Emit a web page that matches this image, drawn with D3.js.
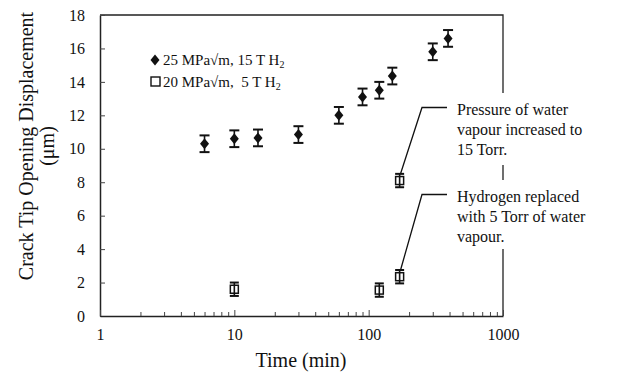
<!DOCTYPE html>
<html>
<head>
<meta charset="utf-8">
<script src="https://cdn.jsdelivr.net/npm/d3@7"></script>
<style>
  body { margin: 0; background: #fff; }
  text { font-family: "Liberation Serif", "Times New Roman", serif; fill: #111; }
</style>
</head>
<body>
<div id="chart"></div>
<script>
// series 1: 25 MPa√m, 15 T H2 (filled diamonds)
const timesA = [6, 10, 15, 30, 60, 90, 120, 150, 300, 390];
const ctodA = [10.3, 10.6, 10.65, 10.85, 12.0, 13.1, 13.5, 14.35, 15.8, 16.6];
const errA = [0.5, 0.5, 0.5, 0.5, 0.5, 0.5, 0.5, 0.5, 0.5, 0.5];

// series 2: 20 MPa√m, 5 T H2 (open squares)
const timesB = [10, 120, 170, 170];
const ctodB = [1.6, 1.55, 2.35, 8.1];
const errB = [0.4, 0.4, 0.4, 0.4];

const xTickLabels = [1, 10, 100, 1000];
const yTickValues = [0, 2, 4, 6, 8, 10, 12, 14, 16, 18];

const legendLabels = ["25 MPa\u221Am, 15 T H", "20 MPa\u221Am,  5 T H"];
const notes = [
    { t: 170, v: 8.1, lines: ["Pressure of water", "vapour increased to", "15 Torr."] },
    { t: 170, v: 2.35, lines: ["Hydrogen replaced", "with 5 Torr of water", "vapour."] }
];

const width = 620, height = 384;
const svg = d3.select("#chart").append("svg")
    .attr("width", width)
    .attr("height", height);

const x = d3.scaleLog().domain([1, 1000]).range([100, 503]);
const y = d3.scaleLinear().domain([0, 18]).range([316, 15]);

// frame (top + right)
svg.append("path")
    .attr("d", `M${x(1)},${y(18)}H${x(1000)}V${y(0)}`)
    .attr("fill", "none")
    .attr("stroke", "#222")
    .attr("stroke-width", 1.3);

// y axis
const yAxis = svg.append("g")
    .attr("transform", `translate(${x(1)},0)`)
    .call(d3.axisLeft(y).tickValues(yTickValues).tickSizeInner(-5).tickSizeOuter(0).tickPadding(15));
yAxis.select(".domain").attr("stroke", "#222").attr("stroke-width", 1.5);
yAxis.selectAll(".tick line").attr("stroke", "#444");
yAxis.selectAll(".tick text").style("font-size", "16px").attr("font-family", null);

// x axis, minor ticks at every integer multiple
const xTicks = [];
[1, 10, 100].forEach(d => { for (let k = 1; k < 10; k++) xTicks.push(d * k); });
xTicks.push(1000);
const xAxis = svg.append("g")
    .attr("transform", `translate(0,${y(0)})`)
    .call(d3.axisBottom(x).tickValues(xTicks).tickSizeInner(-4).tickSizeOuter(0).tickPadding(13)
        .tickFormat(d => xTickLabels.includes(d) ? d : ""));
xAxis.select(".domain").attr("stroke", "#222").attr("stroke-width", 1.5);
xAxis.selectAll(".tick line").attr("stroke", "#444")
    .attr("y2", d => xTickLabels.includes(d) ? -6 : -4);
xAxis.selectAll(".tick text").style("font-size", "16px").attr("font-family", null);

// axis titles
svg.append("text")
    .attr("x", 301).attr("y", 367)
    .attr("text-anchor", "middle")
    .style("font-size", "20px")
    .text("Time (min)");

const yTitle = svg.append("text")
    .attr("transform", "translate(33,146) rotate(-90)")
    .attr("text-anchor", "middle")
    .style("font-size", "20px");
yTitle.append("tspan").attr("x", 0).attr("y", 0).text("Crack Tip Opening Displacement");
yTitle.append("tspan").attr("x", 0).attr("y", 21).text("(\u03BCm)");

// error bars
function errorBars(times, vals, errs, cap) {
    const g = svg.append("g").attr("stroke", "#111").attr("stroke-width", 1.6);
    times.forEach((t, i) => {
        const cx = x(t), lo = y(vals[i] - errs[i]), hi = y(vals[i] + errs[i]);
        g.append("line").attr("x1", cx).attr("x2", cx).attr("y1", lo).attr("y2", hi);
        g.append("line").attr("x1", cx - cap).attr("x2", cx + cap).attr("y1", lo).attr("y2", lo).attr("stroke-width", 2);
        g.append("line").attr("x1", cx - cap).attr("x2", cx + cap).attr("y1", hi).attr("y2", hi).attr("stroke-width", 2);
    });
}
errorBars(timesA, ctodA, errA, 5);
errorBars(timesB, ctodB, errB, 4.5);

const diamond = "M0,-5.5L4.5,0L0,5.5L-4.5,0Z";

svg.append("g").selectAll("path")
    .data(timesA)
    .join("path")
    .attr("d", diamond)
    .attr("transform", (d, i) => `translate(${x(d)},${y(ctodA[i])})`)
    .attr("fill", "#111");

svg.append("g").selectAll("rect")
    .data(timesB)
    .join("rect")
    .attr("x", d => x(d) - 4)
    .attr("y", (d, i) => y(ctodB[i]) - 4)
    .attr("width", 8).attr("height", 8)
    .attr("fill", "none")
    .attr("stroke", "#111")
    .attr("stroke-width", 1.5);

// legend
const legend = svg.append("g");
legendLabels.forEach((lab, i) => {
    const ly = 60 + i * 21.5;
    if (i === 0) {
        legend.append("path").attr("d", diamond).attr("transform", `translate(155,${ly})`).attr("fill", "#111");
    } else {
        legend.append("rect").attr("x", 151).attr("y", ly - 4.5).attr("width", 9).attr("height", 9)
            .attr("fill", "none").attr("stroke", "#111").attr("stroke-width", 1.4);
    }
    const t = legend.append("text").attr("x", 163).attr("y", ly + 5).style("font-size", "15px").style("white-space", "pre");
    t.append("tspan").text(lab);
    t.append("tspan").attr("dy", 3).style("font-size", "10px").text("2");
});

// annotations
notes.forEach(n => {
    const top = n === notes[0] ? 110 : 197;
    svg.append("rect")
        .attr("x", 452).attr("y", top - 17)
        .attr("width", 165).attr("height", n === notes[0] ? 72 : 69)
        .attr("fill", "#fff");
    svg.append("path")
        .attr("d", `M447,${top - 2.5}H422L${x(n.t) + 1},${y(n.v) - 7}`)
        .attr("fill", "none")
        .attr("stroke", "#111")
        .attr("stroke-width", 1.3);
    const t = svg.append("text").attr("x", 457).style("font-size", "16px");
    n.lines.forEach((l, i) => {
        t.append("tspan").attr("x", 457).attr("y", top + 5 + i * 20).text(l);
    });
});
</script>
</body>
</html>
